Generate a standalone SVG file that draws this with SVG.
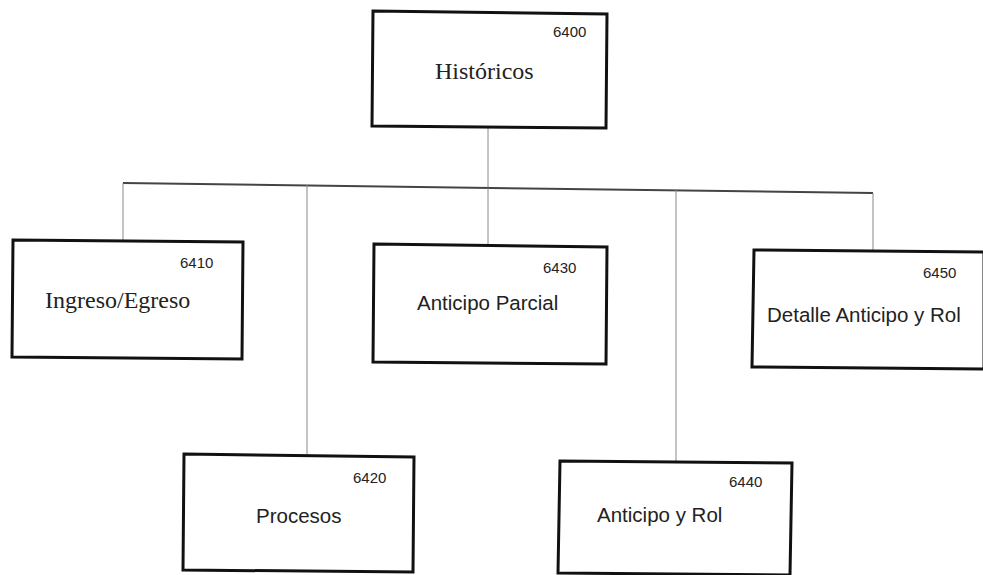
<svg xmlns="http://www.w3.org/2000/svg" width="983" height="575" viewBox="0 0 983 575">
<style>
.box{fill:#fff;stroke:#111;stroke-width:3}
.serif{font-family:"Liberation Serif","Times New Roman",serif;font-size:24px;fill:#222}
.sans{font-family:"Liberation Sans",Arial,sans-serif;font-size:20.5px;fill:#222}
.num{font-family:"Liberation Sans",Arial,sans-serif;font-size:15px;fill:#222}
.thin{stroke:#888;stroke-width:1;fill:none}
.bar{stroke:#444;stroke-width:2;fill:none}
</style>
<rect width="983" height="575" fill="#fff"/>
<g id="connectors">
<line class="thin" x1="488" y1="127" x2="488" y2="188"/>
<line class="bar" x1="123" y1="183" x2="873" y2="193"/>
<line class="thin" x1="123" y1="183" x2="123" y2="240"/>
<line class="thin" x1="307" y1="185" x2="307" y2="454"/>
<line class="thin" x1="488" y1="188" x2="488" y2="245"/>
<line class="thin" x1="676" y1="190" x2="676" y2="462"/>
<line class="thin" x1="873" y1="193" x2="873" y2="250"/>
</g>
<g id="n6400">
<polygon class="box" points="373,11 607,14 606,128 372,126"/>
<text class="num" x="553" y="37">6400</text>
<text class="serif" x="435" y="79">Históricos</text>
</g>
<g id="n6410">
<polygon class="box" points="13,240 243,242 242,359 12,357"/>
<text class="num" x="180" y="268">6410</text>
<text class="serif" x="45" y="308">Ingreso/Egreso</text>
</g>
<g id="n6420">
<polygon class="box" points="184,454 414,457 413,572 183,570"/>
<text class="num" x="353" y="483">6420</text>
<text class="sans" x="256" y="523">Procesos</text>
</g>
<g id="n6430">
<polygon class="box" points="374,244 607,247 606,364 373,362"/>
<text class="num" x="543" y="273">6430</text>
<text class="sans" x="417" y="310">Anticipo Parcial</text>
</g>
<g id="n6440">
<polygon class="box" points="560,461 792,463 790,575 558,573"/>
<text class="num" x="729" y="487">6440</text>
<text class="sans" x="597" y="522">Anticipo y Rol</text>
</g>
<g id="n6450">
<polygon class="box" points="754,250 984,252 984,369 752,367"/>
<text class="num" x="923" y="278">6450</text>
<text class="sans" x="767" y="322">Detalle Anticipo y Rol</text>
</g>
</svg>
